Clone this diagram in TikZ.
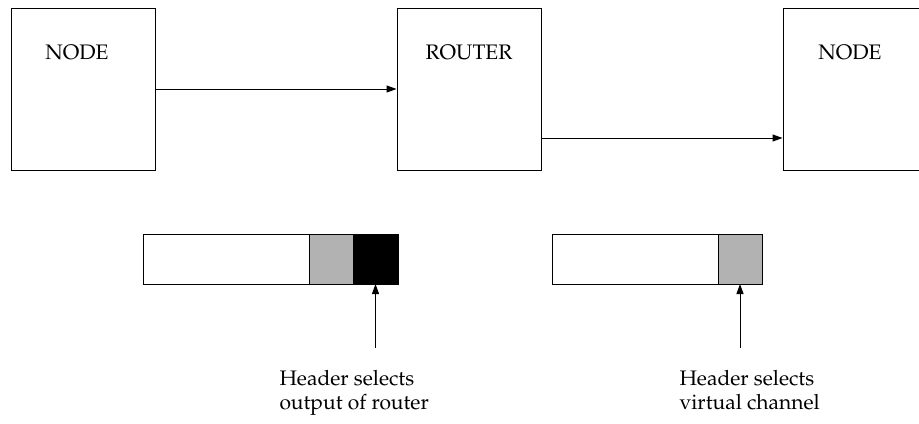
\documentclass[tikz,border=0pt]{standalone}
\usepackage[T1]{fontenc}
\usepackage{palatino}
\usetikzlibrary{positioning,arrows.meta}

\begin{document}
\begin{tikzpicture}
      [x=0.5pt,y=-0.5pt,line width=0.5pt,
       >={Triangle[length=5pt,width=3.5pt]},
       font=\fontsize{10.5}{12}\selectfont]
      \tikzstyle{box}=[draw,minimum width=72pt,minimum height=81pt,inner sep=0pt]
      \tikzstyle{title}=[inner sep=0pt]
      \tikzstyle{cell}=[draw,minimum height=25pt,inner sep=0pt,outer sep=0pt]
      \tikzstyle{note}=[align=left,inner sep=0pt,anchor=north west]
      \useasboundingbox (0,0) rectangle (919,423);
      \node[box] (src) at (83,89) {};
      \node[box] (router) at (469,89) {};
      \node[box] (dst) at (855,89) {};
      \node[title,below=18.5pt of src.north,xshift=-3pt] (srcname) {NODE};
      \node[title,below=18.5pt of router.north] (routername) {ROUTER};
      \node[title,below=18.5pt of dst.north,xshift=-2.5pt] (dstname) {NODE};
      \draw[->] (src) -- (router);
      \draw[->] ([yshift=-24.5pt]router.east) -- ([yshift=-24.5pt]dst.west);
      \node[cell,minimum width=83pt] (body1) at (226,259) {};
      \node[cell,minimum width=22pt,fill=black!30,right=0pt of body1] (vc1) {};
      \node[cell,minimum width=22.5pt,fill=black,right=0pt of vc1] (out1) {};
      \node[cell,minimum width=83pt] (body2) at (635,259) {};
      \node[cell,minimum width=22pt,fill=black!30,right=0pt of body2] (vc2) {};
      \coordinate[below=32pt of out1.south] (tail1);
      \coordinate[below=32pt of vc2.south] (tail2);
      \draw[->] (tail1) -- (out1.south);
      \draw[->] (tail2) -- (vc2.south);
      \node[note] (note1) at (279,370) {Header selects\\output of router};
      \node[note] (note2) at (679,370) {Header selects\\virtual channel};
    \end{tikzpicture}
\end{document}
